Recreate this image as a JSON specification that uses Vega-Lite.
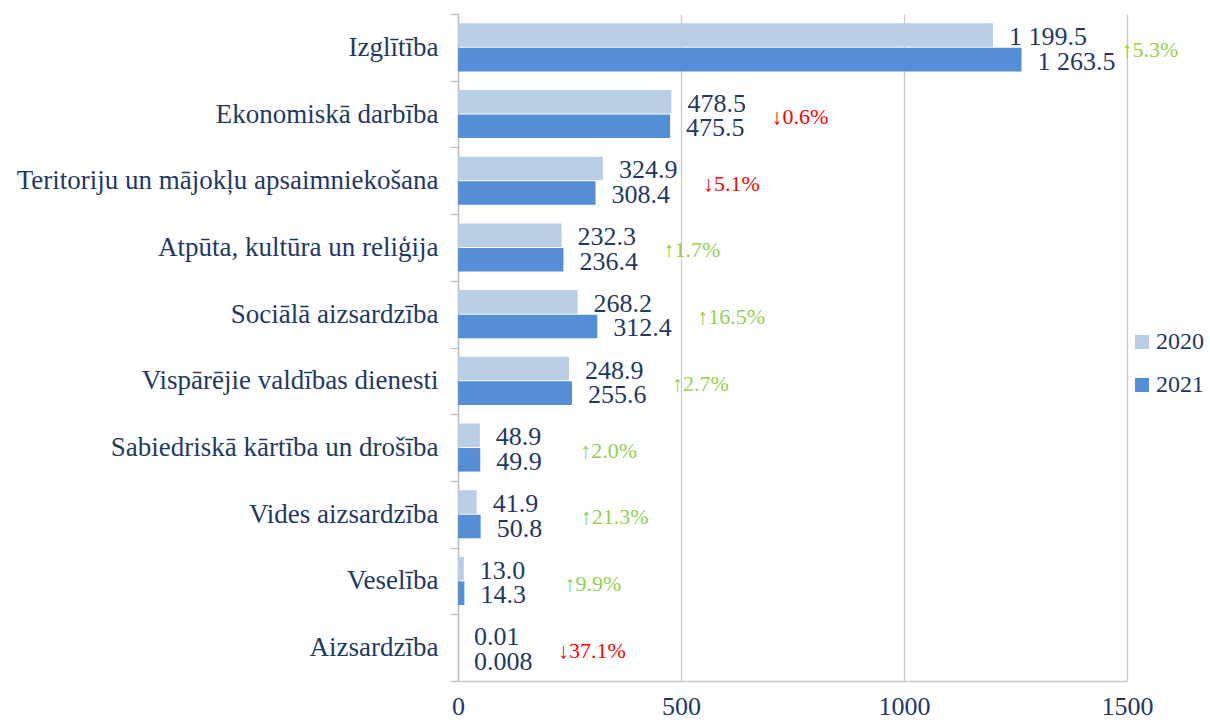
{
  "$schema": "https://vega.github.io/schema/vega-lite/v6.json",
  "width": 669,
  "height": 667,
  "autosize": {"type": "none"},
  "padding": {"left": 458, "top": 14, "right": 83, "bottom": 41},
  "background": "white",
  "config": {"view": {"stroke": null}, "font": "Liberation Serif"},
  "data": {
    "values": [
      {"category": "Izglītība", "year": 2020, "value": 1199.5, "label": "1 199.5", "pct": null, "dir": null},
      {"category": "Izglītība", "year": 2021, "value": 1263.5, "label": "1 263.5", "pct": "↑5.3%", "dir": "up"},
      {"category": "Ekonomiskā darbība", "year": 2020, "value": 478.5, "label": "478.5", "pct": null, "dir": null},
      {"category": "Ekonomiskā darbība", "year": 2021, "value": 475.5, "label": "475.5", "pct": "↓0.6%", "dir": "down"},
      {"category": "Teritoriju un mājokļu apsaimniekošana", "year": 2020, "value": 324.9, "label": "324.9", "pct": null, "dir": null},
      {"category": "Teritoriju un mājokļu apsaimniekošana", "year": 2021, "value": 308.4, "label": "308.4", "pct": "↓5.1%", "dir": "down"},
      {"category": "Atpūta, kultūra un reliģija", "year": 2020, "value": 232.3, "label": "232.3", "pct": null, "dir": null},
      {"category": "Atpūta, kultūra un reliģija", "year": 2021, "value": 236.4, "label": "236.4", "pct": "↑1.7%", "dir": "up"},
      {"category": "Sociālā aizsardzība", "year": 2020, "value": 268.2, "label": "268.2", "pct": null, "dir": null},
      {"category": "Sociālā aizsardzība", "year": 2021, "value": 312.4, "label": "312.4", "pct": "↑16.5%", "dir": "up"},
      {"category": "Vispārējie valdības dienesti", "year": 2020, "value": 248.9, "label": "248.9", "pct": null, "dir": null},
      {"category": "Vispārējie valdības dienesti", "year": 2021, "value": 255.6, "label": "255.6", "pct": "↑2.7%", "dir": "up"},
      {"category": "Sabiedriskā kārtība un drošība", "year": 2020, "value": 48.9, "label": "48.9", "pct": null, "dir": null},
      {"category": "Sabiedriskā kārtība un drošība", "year": 2021, "value": 49.9, "label": "49.9", "pct": "↑2.0%", "dir": "up"},
      {"category": "Vides aizsardzība", "year": 2020, "value": 41.9, "label": "41.9", "pct": null, "dir": null},
      {"category": "Vides aizsardzība", "year": 2021, "value": 50.8, "label": "50.8", "pct": "↑21.3%", "dir": "up"},
      {"category": "Veselība", "year": 2020, "value": 13.0, "label": "13.0", "pct": null, "dir": null},
      {"category": "Veselība", "year": 2021, "value": 14.3, "label": "14.3", "pct": "↑9.9%", "dir": "up"},
      {"category": "Aizsardzība", "year": 2020, "value": 0.01, "label": "0.01", "pct": null, "dir": null},
      {"category": "Aizsardzība", "year": 2021, "value": 0.008, "label": "0.008", "pct": "↓37.1%", "dir": "down"}
    ]
  },
  "encoding": {
    "y": {
      "field": "category",
      "type": "nominal",
      "sort": ["Izglītība", "Ekonomiskā darbība", "Teritoriju un mājokļu apsaimniekošana", "Atpūta, kultūra un reliģija", "Sociālā aizsardzība", "Vispārējie valdības dienesti", "Sabiedriskā kārtība un drošība", "Vides aizsardzība", "Veselība", "Aizsardzība"],
      "scale": {"paddingInner": 0, "paddingOuter": 0},
      "axis": {
        "title": null,
        "labelFontSize": 27,
        "labelColor": "#1F3864",
        "labelPadding": 12,
        "labelLimit": 600,
        "tickSize": 8,
        "tickColor": "#BFBFBF",
        "tickWidth": 1.3,
        "tickBand": "extent",
        "domainColor": "#BFBFBF",
        "domainWidth": 1.5
      }
    }
  },
  "layer": [
    {
      "mark": {"type": "bar"},
      "encoding": {
        "x": {
          "field": "value",
          "type": "quantitative",
          "scale": {"domain": [0, 1500], "nice": false},
          "axis": {
            "title": null,
            "values": [0, 500, 1000, 1500],
            "format": "d",
            "grid": true,
            "gridColor": "#C8C8C8",
            "gridWidth": 1.3,
            "domainColor": "#C8C8C8",
            "domainWidth": 1.3,
            "ticks": false,
            "labelFontSize": 26,
            "labelColor": "#1F3864",
            "labelPadding": 12,
            "labelFlush": false
          }
        },
        "yOffset": {"field": "year", "type": "nominal", "scale": {"paddingInner": 0.04, "paddingOuter": 0.38}},
        "color": {
          "field": "year",
          "type": "nominal",
          "scale": {"domain": [2020, 2021], "range": ["#B9CDE5", "#558ED5"]},
          "legend": {
            "title": null,
            "orient": "none",
            "legendX": 672,
            "legendY": 316,
            "labelFontSize": 24,
            "labelColor": "#1F3864",
            "symbolType": "square",
            "symbolSize": 196,
            "symbolStrokeWidth": 0,
            "rowPadding": 19,
            "labelOffset": 2
          }
        }
      }
    },
    {
      "mark": {"type": "text", "align": "left", "baseline": "middle", "dx": 16, "dy": 2, "fontSize": 26, "color": "#1F3864"},
      "encoding": {
        "x": {"field": "value", "type": "quantitative"},
        "yOffset": {"field": "year", "type": "nominal"},
        "text": {"field": "label"}
      }
    },
    {
      "transform": [
        {"joinaggregate": [{"op": "max", "field": "value", "as": "maxv"}], "groupby": ["category"]},
        {"filter": "datum.year == 2021"}
      ],
      "mark": {"type": "text", "align": "left", "baseline": "middle", "dx": 100, "dy": 3, "fontSize": 22},
      "encoding": {
        "x": {"field": "maxv", "type": "quantitative"},
        "text": {"field": "pct"},
        "color": {"condition": {"test": "datum.dir == 'down'", "value": "#FF0000"}, "value": "#92D050"}
      }
    }
  ]
}
